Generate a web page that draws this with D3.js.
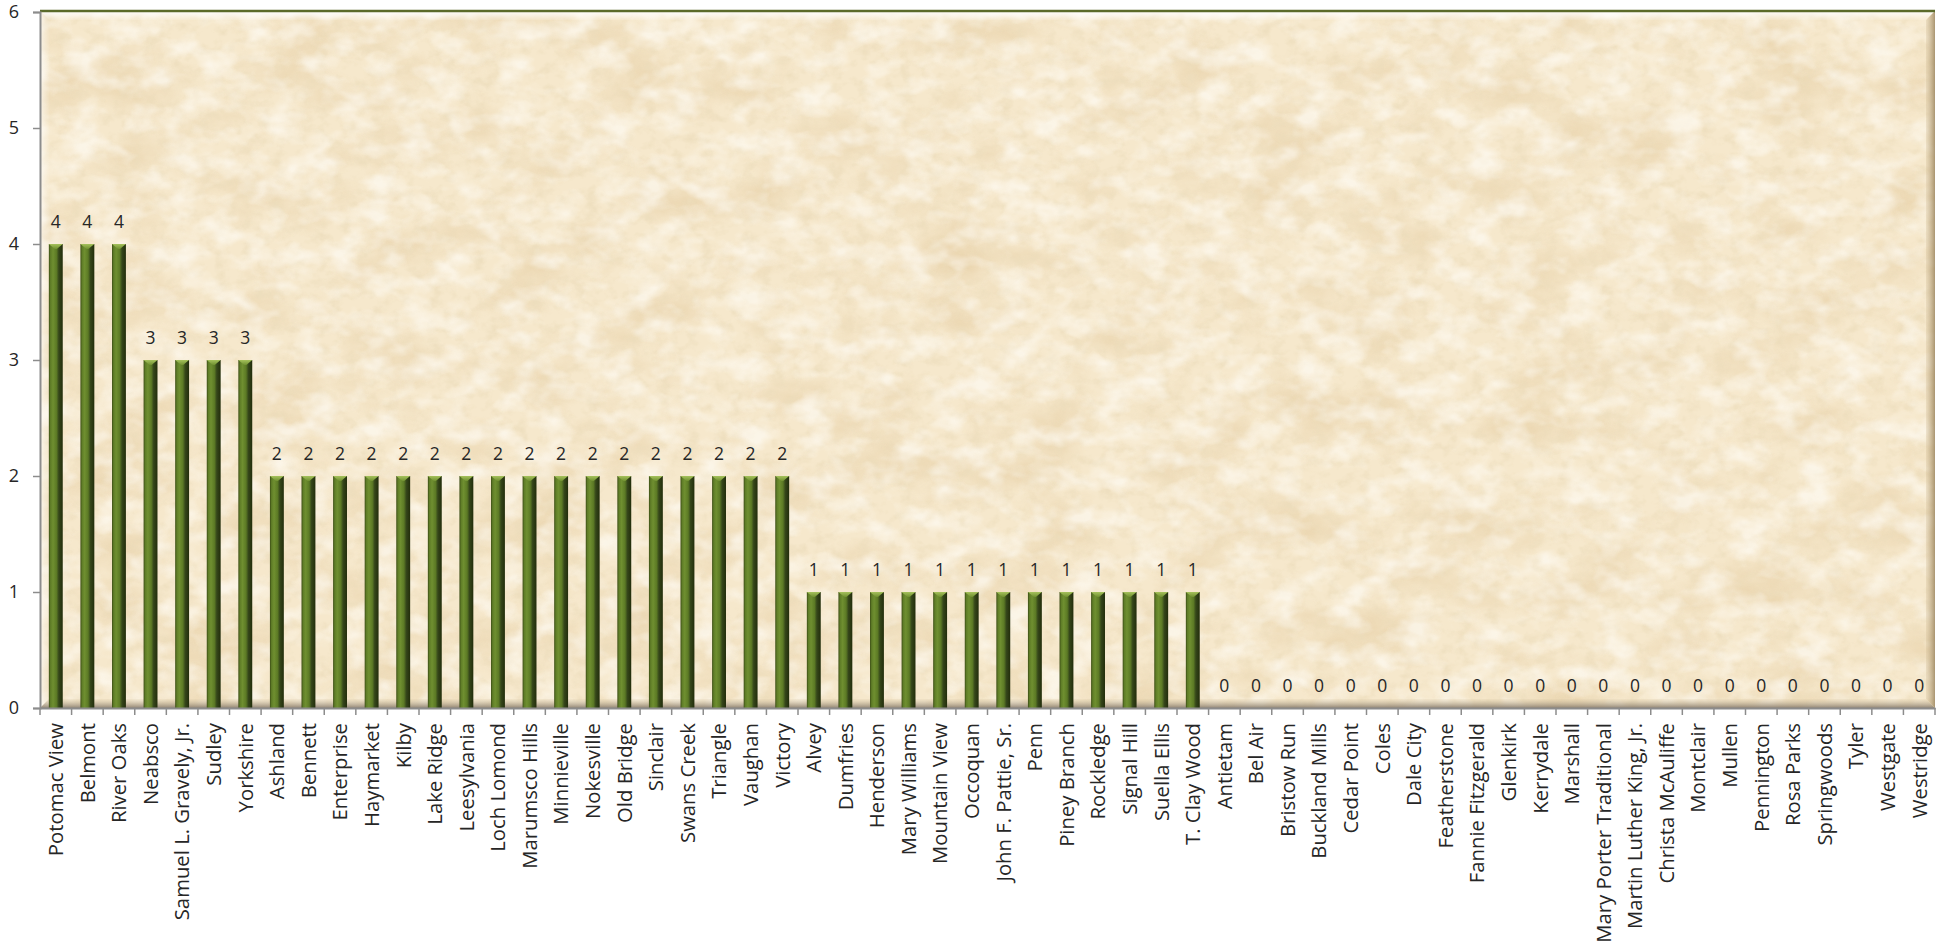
<!DOCTYPE html>
<html>
<head>
<meta charset="utf-8">
<script src="https://cdn.jsdelivr.net/npm/d3@7"></script>
<style>
  html, body { margin: 0; padding: 0; background: #ffffff; }
  svg { display: block; }
</style>
</head>
<body>
<svg id="chart" width="1936" height="944"></svg>
<script>
// Schools, in the order shown along the axis
const schools = [
  "Potomac View", "Belmont", "River Oaks", "Neabsco", "Samuel L. Gravely, Jr.",
  "Sudley", "Yorkshire", "Ashland", "Bennett", "Enterprise", "Haymarket", "Kilby",
  "Lake Ridge", "Leesylvania", "Loch Lomond", "Marumsco Hills", "Minnieville",
  "Nokesville", "Old Bridge", "Sinclair", "Swans Creek", "Triangle", "Vaughan",
  "Victory", "Alvey", "Dumfries", "Henderson", "Mary Williams", "Mountain View",
  "Occoquan", "John F. Pattie, Sr.", "Penn", "Piney Branch", "Rockledge",
  "Signal Hill", "Suella Ellis", "T. Clay Wood", "Antietam", "Bel Air",
  "Bristow Run", "Buckland Mills", "Cedar Point", "Coles", "Dale City",
  "Featherstone", "Fannie Fitzgerald", "Glenkirk", "Kerrydale", "Marshall",
  "Mary Porter Traditional", "Martin Luther King, Jr.", "Christa McAuliffe",
  "Montclair", "Mullen", "Pennington", "Rosa Parks", "Springwoods", "Tyler",
  "Westgate", "Westridge"
];

// Count per school
const counts = [
  4, 4, 4, 3, 3, 3, 3,
  2, 2, 2, 2, 2, 2, 2, 2, 2, 2, 2, 2, 2, 2, 2, 2, 2,
  1, 1, 1, 1, 1, 1, 1, 1, 1, 1, 1, 1, 1,
  0, 0, 0, 0, 0, 0, 0, 0, 0, 0, 0, 0, 0, 0, 0, 0, 0, 0, 0, 0, 0, 0, 0
];

const yTicks = [0, 1, 2, 3, 4, 5, 6];

const data = schools.map((name, i) => ({ name, value: counts[i] }));

const plot = { left: 40, right: 1935, top: 11, bottom: 708 };
const FONT = "'Open Sans', 'Noto Sans', sans-serif";
const TEXT = "#262626";
const AXIS = "#8c8c8c";
const catSize = 20.3;
const numSize = 17.5;

const svg = d3.select("#chart");

const x = d3.scaleBand()
  .domain(schools)
  .range([plot.left, plot.right])
  .paddingInner(0.56)
  .paddingOuter(0.28);

const y = d3.scaleLinear()
  .domain([0, 6])
  .range([plot.bottom, plot.top + 1]);

const defs = svg.append("defs");

// Parchment texture: soft blotches plus finer grain
const mottle = defs.append("filter").attr("id", "mottle")
  .attr("x", 0).attr("y", 0).attr("width", 1).attr("height", 1);
mottle.append("feTurbulence").attr("type", "fractalNoise")
  .attr("baseFrequency", "0.012 0.018").attr("numOctaves", 5).attr("seed", 11);
mottle.append("feColorMatrix").attr("type", "matrix")
  .attr("values", "0 0 0 0 0.82  0 0 0 0 0.66  0 0 0 0 0.42  2.3 0 0 0 -1.0");

const grain = defs.append("filter").attr("id", "grain")
  .attr("x", 0).attr("y", 0).attr("width", 1).attr("height", 1);
grain.append("feTurbulence").attr("type", "fractalNoise")
  .attr("baseFrequency", "0.07 0.09").attr("numOctaves", 3).attr("seed", 4);
grain.append("feColorMatrix").attr("type", "matrix")
  .attr("values", "0 0 0 0 0.84  0 0 0 0 0.72  0 0 0 0 0.50  2.6 0 0 0 -1.22");

const grainLight = defs.append("filter").attr("id", "grainLight")
  .attr("x", 0).attr("y", 0).attr("width", 1).attr("height", 1);
grainLight.append("feTurbulence").attr("type", "fractalNoise")
  .attr("baseFrequency", "0.03 0.045").attr("numOctaves", 3).attr("seed", 21);
grainLight.append("feColorMatrix").attr("type", "matrix")
  .attr("values", "0 0 0 0 1.0  0 0 0 0 0.98  0 0 0 0 0.93  2.6 0 0 0 -1.1");

function linGrad(id, x1, y1, x2, y2, stops) {
  const g = defs.append("linearGradient").attr("id", id)
    .attr("x1", x1).attr("y1", y1).attr("x2", x2).attr("y2", y2);
  stops.forEach(s => g.append("stop").attr("offset", s[0])
    .attr("stop-color", s[1]).attr("stop-opacity", s[2]));
}
// Bevel shading
linGrad("bevTop", 0, 0, 0, 1, [[0, "#ffffff", 0.95], [1, "#ffffff", 0.1]]);
linGrad("bevLeft", 0, 0, 1, 0, [[0, "#ffffff", 0.6], [1, "#ffffff", 0.05]]);
linGrad("bevRight", 1, 0, 0, 0, [[0, "#9c8660", 0.85], [1, "#c9b38a", 0.25]]);
linGrad("bevBottom", 0, 1, 0, 0, [[0, "#85796a", 0.9], [0.5, "#b2a48c", 0.6], [1, "#d9c8a6", 0.2]]);

// Bar body: lit face on the left, deep shade on the right
linGrad("barBody", 0, 0, 1, 0, [
  [0, "#3b4c15", 1], [0.12, "#5f7d27", 1], [0.3, "#6f8f30", 1],
  [0.55, "#5c7a25", 1], [0.72, "#35461a", 1], [1, "#222d0b", 1]
]);
linGrad("barCap", 0, 0, 0, 1, [[0, "#a6c25c", 1], [1, "#6f8f30", 1]]);

// Plot area
const pw = plot.right - plot.left, ph = plot.bottom - plot.top;
const area = svg.append("g");
area.append("rect")
  .attr("x", plot.left).attr("y", plot.top).attr("width", pw).attr("height", ph)
  .attr("fill", "#f6e8cc");
area.append("rect")
  .attr("x", plot.left).attr("y", plot.top).attr("width", pw).attr("height", ph)
  .attr("fill", "#fff").attr("filter", "url(#mottle)").attr("opacity", 0.85);
area.append("rect")
  .attr("x", plot.left).attr("y", plot.top).attr("width", pw).attr("height", ph)
  .attr("fill", "#fff").attr("filter", "url(#grain)").attr("opacity", 0.75);
area.append("rect")
  .attr("x", plot.left).attr("y", plot.top).attr("width", pw).attr("height", ph)
  .attr("fill", "#fff").attr("filter", "url(#grainLight)").attr("opacity", 0.65);

// Bevelled edges of the plot area
const bv = 9;
const L = plot.left, R = plot.right, T = plot.top, B = plot.bottom;
const poly = pts => pts.map(p => p.join(",")).join(" ");
area.append("polygon").attr("points", poly([[L, T], [R, T], [R - bv, T + bv], [L + bv, T + bv]]))
  .attr("fill", "url(#bevTop)");
area.append("polygon").attr("points", poly([[L, T], [L + bv, T + bv], [L + bv, B - bv], [L, B]]))
  .attr("fill", "url(#bevLeft)");
area.append("polygon").attr("points", poly([[R, T], [R, B], [R - bv, B - bv], [R - bv, T + bv]]))
  .attr("fill", "url(#bevRight)");
area.append("polygon").attr("points", poly([[L, B], [R, B], [R - bv, B - bv], [L + bv, B - bv]]))
  .attr("fill", "url(#bevBottom)");

// Top border
area.append("line")
  .attr("x1", L).attr("x2", R).attr("y1", T).attr("y2", T)
  .attr("stroke", "#5b6a2a").attr("stroke-width", 2.5);

// Bars
const bars = svg.append("g").selectAll("g.bar")
  .data(data.filter(d => d.value > 0))
  .join("g").attr("class", "bar");

bars.append("rect")
  .attr("x", d => x(d.name))
  .attr("y", d => y(d.value))
  .attr("width", x.bandwidth())
  .attr("height", d => y(0) - y(d.value))
  .attr("fill", "url(#barBody)");

bars.append("polygon")
  .attr("points", d => {
    const x0 = x(d.name), x1 = x0 + x.bandwidth(), xc = x0 + x.bandwidth() / 2, t = y(d.value);
    return poly([[x0, t], [x1, t], [xc + 1, t + 5], [xc - 1, t + 5]]);
  })
  .attr("fill", "url(#barCap)");

// Value labels
svg.append("g").selectAll("text")
  .data(data)
  .join("text")
  .attr("x", d => x(d.name) + x.bandwidth() / 2)
  .attr("y", d => y(d.value) - 16)
  .attr("text-anchor", "middle")
  .attr("font-family", FONT)
  .attr("font-size", numSize)
  .attr("fill", TEXT)
  .text(d => d.value);

// Y axis
const yAxis = d3.axisLeft(y).tickValues(yTicks).tickSize(7).tickPadding(14).tickFormat(d3.format("d"));
const gy = svg.append("g").attr("transform", `translate(${plot.left},0)`).call(yAxis);
gy.select(".domain").attr("stroke", AXIS).attr("stroke-width", 2);
gy.selectAll(".tick line").attr("stroke", AXIS).attr("stroke-width", 1.5);
gy.selectAll(".tick text").attr("font-family", FONT).attr("font-size", numSize + 0.5).attr("fill", TEXT);

// X axis with tick marks on category boundaries
const xAxis = d3.axisBottom(x).tickSize(0).tickPadding(0);
const gx = svg.append("g").attr("transform", `translate(0,${plot.bottom})`).call(xAxis);
gx.select(".domain").attr("stroke", AXIS).attr("stroke-width", 2);
gx.selectAll(".tick text")
  .attr("font-family", FONT)
  .attr("font-size", catSize)
  .attr("fill", TEXT)
  .attr("text-anchor", "end")
  .attr("transform", "rotate(-90)")
  .attr("x", -15)
  .attr("y", 0)
  .attr("dy", "0.36em");

const step = x.step();
const boundaries = d3.range(schools.length + 1).map(i => plot.left + i * step);
gx.append("g").selectAll("line")
  .data(boundaries)
  .join("line")
  .attr("x1", d => d).attr("x2", d => d)
  .attr("y1", 0).attr("y2", 7)
  .attr("stroke", AXIS).attr("stroke-width", 1.5);
</script>
</body>
</html>
